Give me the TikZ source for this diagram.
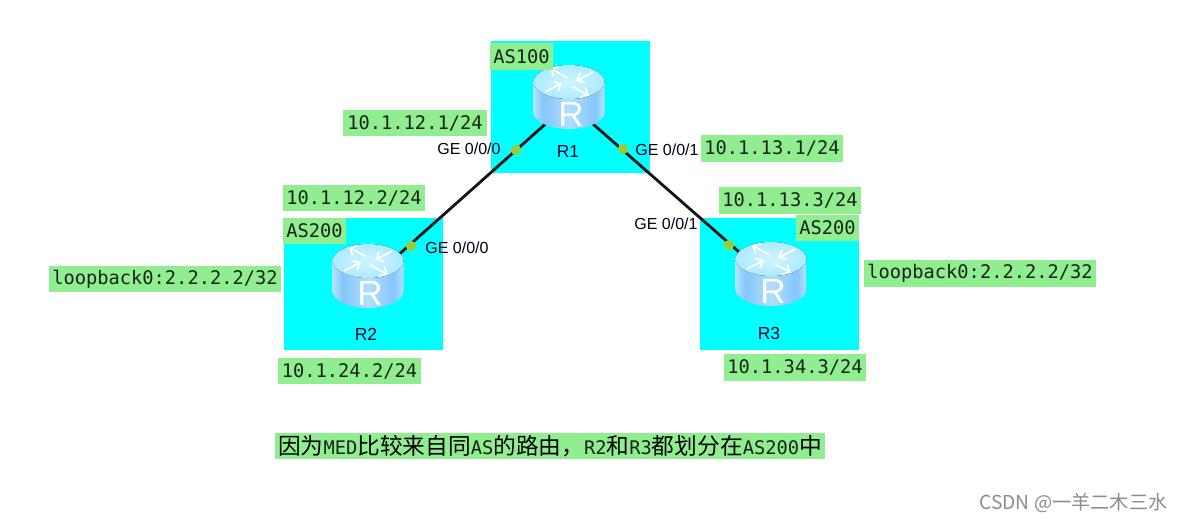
\documentclass[tikz,border=0pt]{standalone}
\usepackage{fontspec}
\setmainfont{Liberation Sans}
\newfontfamily\cjk{Noto Sans CJK SC}
\newfontfamily\monof{DejaVu Sans Mono}
\usetikzlibrary{arrows.meta}
\definecolor{lbl}{HTML}{90EE90}
\definecolor{aqua}{HTML}{00FFFF}
\definecolor{dotc}{HTML}{90D040}
\definecolor{inktxt}{HTML}{142418}
\definecolor{ra}{HTML}{B4E4FF}
\definecolor{rb}{HTML}{86C6FA}
\definecolor{rc}{HTML}{AEDFFF}
\definecolor{rtop}{HTML}{ACEBFF}
\definecolor{rtopin}{HTML}{CFF5FF}
\pgfdeclarehorizontalshading{rside}{100bp}{color(0bp)=(ra);color(25bp)=(ra);color(32bp)=(rb);color(50bp)=(rc);color(68bp)=(rb);color(75bp)=(ra);color(100bp)=(ra)}
\tikzset{
  x=1pt,y=-1pt,
  asbox/.style={fill=aqua,draw=none,minimum width=159pt,minimum height=132pt,inner sep=0pt},
  greenlbl/.style={fill=lbl,draw=none,inner sep=0pt,minimum height=26.5pt,text=inktxt,font=\monof\fontsize{18.7}{20}\selectfont},
  ifname/.style={inner sep=0pt,text=black!90!blue,font=\fontsize{16}{18}\selectfont},
  rname/.style={inner sep=0pt,text=black!80!blue,font=\fontsize{17.5}{18}\selectfont},
  link/.style={draw=black!92,line width=2.8pt},
  portdot/.style={circle,fill=dotc,draw=none,minimum size=10.5pt,inner sep=0pt},
  rcore/.style={inner sep=0pt,minimum size=2pt},
  arw/.style={draw=white,line width=1.7pt,-{Straight Barb[length=6pt,width=11pt]}},
  cjkpart/.style={},
  routerpic/.pic={
    \path[shading=rside]
      (-35.5,-21) -- (-35.5,9) .. controls (-35.5,18.5) and (-19.5,26) .. (0,26)
      .. controls (19.5,26) and (35.5,18.5) .. (35.5,9) -- (35.5,-21) -- cycle;
    \fill[inner color=rtopin,outer color=rtop] (0,-21) circle[x radius=35.5,y radius=17];
    \begin{scope}[shift={(0,-21)},cm={1,0,0,0.55,(0,0)}]
      \draw[arw] (-2,-8) -- (-19,-25);
      \draw[arw] (3,8) -- (20,25);
      \draw[arw] (-24,18) -- (-7,2);
      \draw[arw] (24,-18) -- (7,-2);
    \end{scope}
    \node[inner sep=0pt,text=white,font=\fontsize{35}{35}\selectfont] at (2,11) {R};
  }
}
\newcommand{\zh}[1]{{\cjk\fontsize{22.7}{24}\selectfont\color{black}#1}}
\begin{document}
\begin{tikzpicture}
\useasboundingbox (0,0) rectangle (1185,522);
\fill[white] (0,0) rectangle (1185,522);
% AS areas
\node[asbox] (asA) at (570.5,106.5) {};
\node[asbox] (asB) at (363.5,284) {};
\node[asbox] (asC) at (779.5,284) {};
% router anchors
\node[rcore] (R1) at (569,103) {};
\node[rcore] (R2) at (368,282) {};
\node[rcore] (R3) at (771,280) {};
% links
\draw[link] (R1.center) -- (R2.center);
\draw[link] (R1.center) -- (R3.center);
% routers
\pic at (R1.center) {routerpic};
\pic at (R2.center) {routerpic};
\pic at (R3.center) {routerpic};
% port dots
\node[portdot] (p1) at (516,150) {};
\node[portdot] (p2) at (411,246) {};
\node[portdot] (p3) at (623,149) {};
\node[portdot] (p4) at (729,245) {};
% names
\node[rname] (n1) at (568,151) {R1};
\node[rname] (n2) at (366,334) {R2};
\node[rname] (n3) at (769,333) {R3};
% interfaces
\node[ifname] (g1) at (469,149) {GE 0/0/0};
\node[ifname] (g2) at (457,248) {GE 0/0/0};
\node[ifname] (g3) at (667,150) {GE 0/0/1};
\node[ifname] (g4) at (666,224) {GE 0/0/1};
% green labels
\node[greenlbl,minimum width=63pt] (a1) at (521.5,56.5) {AS100};
\node[greenlbl,minimum width=144pt] (l1) at (415,123) {10.1.12.1/24};
\node[greenlbl,minimum width=142pt] (l2) at (772,148.5) {10.1.13.1/24};
\node[greenlbl,minimum width=142pt] (l3) at (354,198) {10.1.12.2/24};
\node[greenlbl,minimum width=63pt] (a2) at (314.5,231) {AS200};
\node[greenlbl,minimum width=232pt] (l4) at (165,279) {loopback0:2.2.2.2/32};
\node[greenlbl,minimum width=143pt] (l5) at (349.5,371) {10.1.24.2/24};
\node[greenlbl,minimum width=142pt] (l6) at (790,200.5) {10.1.13.3/24};
\node[greenlbl,minimum width=63pt] (a3) at (827.5,228) {AS200};
\node[greenlbl,minimum width=232pt] (l7) at (980,273.5) {loopback0:2.2.2.2/32};
\node[greenlbl,minimum width=142pt] (l8) at (795,367.5) {10.1.34.3/24};
\node[greenlbl,minimum width=550pt] (note) at (550,446) {\zh{因为}MED\zh{比较来自同}AS\zh{的路由，}R2\zh{和}R3\zh{都划分在}AS200\zh{中}};
% watermark
\node[inner sep=0pt,text=black!45,font=\cjk\fontsize{19.2}{20}\selectfont] (wm) at (1073.5,503) {CSDN @一羊二木三水};
\end{tikzpicture}
\end{document}
